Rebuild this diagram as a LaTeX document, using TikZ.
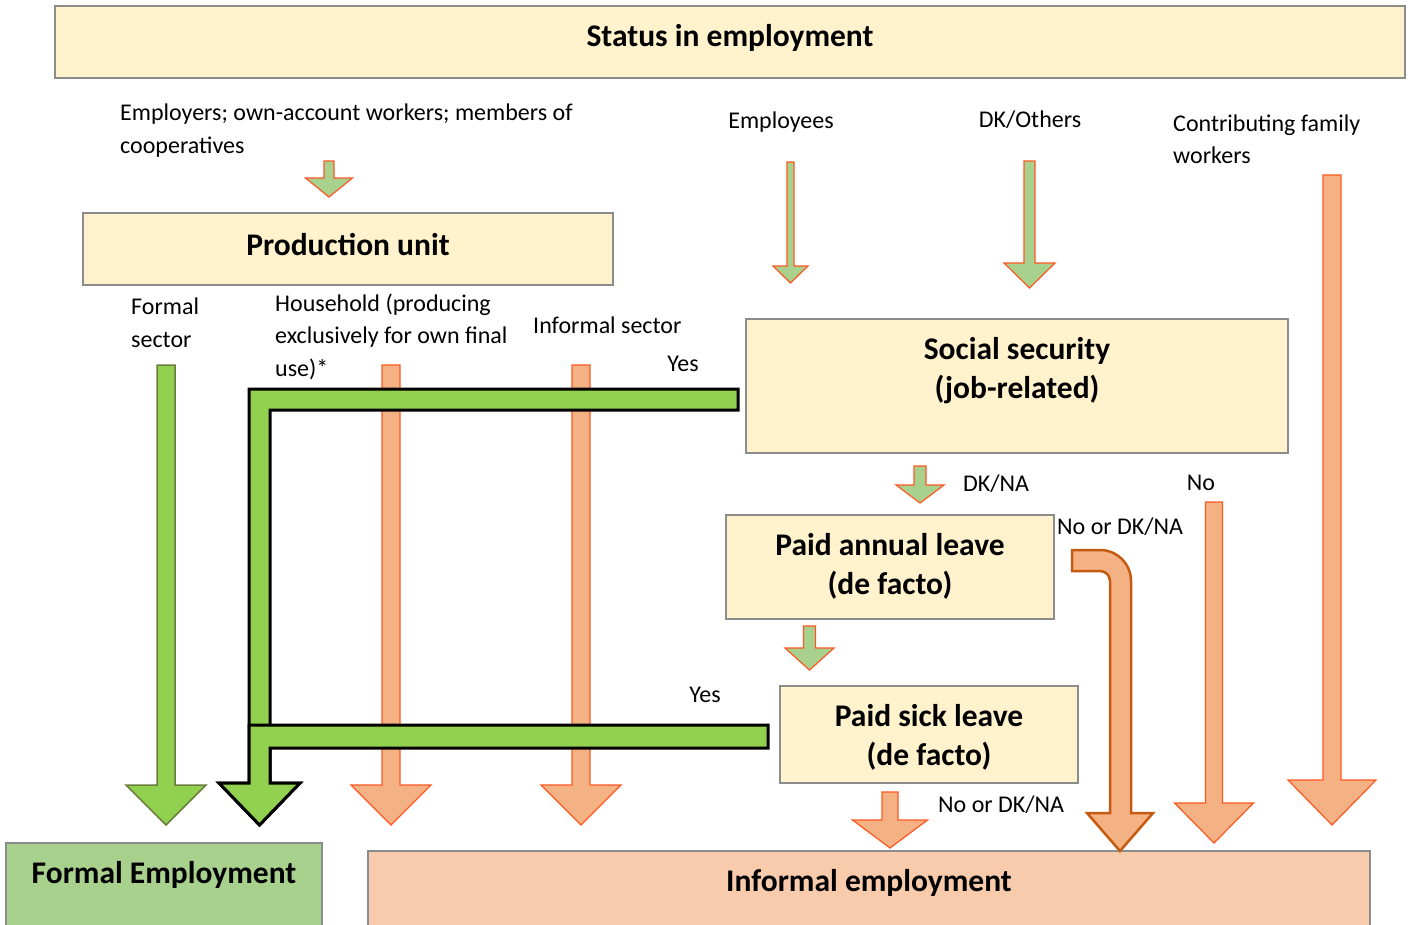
\documentclass[tikz,border=0pt]{standalone}
\usepackage{fontspec}
\setmainfont{Carlito}
\usepackage{tikz}

\definecolor{cream}{HTML}{FFF2CC}
\definecolor{boxgray}{HTML}{8C8C8C}
\definecolor{lightgreen}{HTML}{A9D18E}
\definecolor{brightgreen}{HTML}{92D050}
\definecolor{peach}{HTML}{F4B183}
\definecolor{lightpeach}{HTML}{F8CBAD}
\definecolor{redline}{HTML}{FF5722}
\definecolor{oliveline}{HTML}{6B7D3C}
\definecolor{brownline}{HTML}{C55A11}

\tikzset{
  box/.style={draw=boxgray, line width=2.5pt, fill=cream, inner sep=0pt},
  lbl/.style={font=\fontsize{24}{32.5}\selectfont, align=left, inner sep=0pt, yshift=-1.5pt},
  head/.style={font=\fontsize{31.5}{39}\selectfont\bfseries, align=center, inner sep=0pt, yshift=-2pt},
  greenarrow/.style={fill=lightgreen, draw=redline, line width=1.2pt},
  orangearrow/.style={fill=peach, draw=redline, line width=1.2pt},
  formalarrow/.style={fill=brightgreen, draw=oliveline, line width=1.5pt},
  yesarrow/.style={fill=brightgreen, draw=black, line width=3pt, line join=miter},
  noarrow/.style={fill=peach, draw=brownline, line width=2.5pt},
}

% block arrow pointing down : style, x, top, tip, half shaft, half head, head length
\newcommand{\blockdown}[7]{%
  \draw[#1] (#2-#5,#3) -- (#2+#5,#3) -- (#2+#5,#4-#7) -- (#2+#6,#4-#7)
    -- (#2,#4) -- (#2-#6,#4-#7) -- (#2-#5,#4-#7) -- cycle;}

\begin{document}
\begin{tikzpicture}[x=1pt, y=-1pt]

	\useasboundingbox (0,0) rectangle (1410,924);

	% Boites
	\node[box, minimum width=1350, minimum height=72] (status) at (730,42) {};
	\node[box, minimum width=530, minimum height=72] (unit) at (348,249) {};
	\node[box, minimum width=542, minimum height=134] (social) at (1017,386) {};
	\node[box, minimum width=328, minimum height=104] (annual) at (890,567) {};
	\node[box, minimum width=298, minimum height=97] (sick) at (929,734.5) {};
	\node[box, fill=lightgreen, minimum width=316, minimum height=97] (formal) at (164,891.5) {};
	\node[box, fill=lightpeach, minimum width=1002, minimum height=89] (informal) at (869,895.5) {};

	\node[head] (status-t) at (730,36) {Status in employment};
	\node[head] (unit-t) at (348,243) {Production unit};
	\node[head] (social-t) at (1017,368.5) {Social security\\(job-related)};
	\node[head] (annual-t) at (890,564.5) {Paid annual leave\\(de facto)};
	\node[head] (sick-t) at (929,735.5) {Paid sick leave\\(de facto)};
	\node[head] (formal-t) at (164,873) {Formal Employment};
	\node[head] (informal-t) at (869,881) {Informal employment};

	% Etiquettes
	\node[lbl, anchor=west] (employers) at (120,129) {Employers; own-account workers; members of\\cooperatives};
	\node[lbl] (employees) at (781,121) {Employees};
	\node[lbl] (dkothers) at (1030,118) {DK/Others};
	\node[lbl, anchor=west] (family) at (1173,138) {Contributing family\\workers};
	\node[lbl, anchor=west] (fsector) at (131,321) {Formal\\sector};
	\node[lbl, anchor=west] (household) at (275,335) {Household (producing\\exclusively for own final\\use)*};
	\node[lbl, anchor=west] (isector) at (533,324) {Informal sector};
	\node[lbl] (yes1) at (683,362) {Yes};
	\node[lbl, anchor=west] (dkna) at (963,482) {DK/NA};
	\node[lbl] (no) at (1201,481) {No};
	\node[lbl, anchor=west] (nodk1) at (1057,525) {No or DK/NA};
	\node[lbl] (yes2) at (705,693) {Yes};
	\node[lbl, anchor=west] (nodk2) at (938,803) {No or DK/NA};

	% Fleches du haut
	\blockdown{greenarrow}{329}{161}{197}{5}{23.5}{19}
	\blockdown{greenarrow}{790.5}{162}{283}{3.5}{17.5}{17}
	\blockdown{greenarrow}{1029.5}{161}{288}{5.5}{25.5}{25}
	\blockdown{orangearrow}{1332}{175}{825}{9}{44}{45}

	% Fleches des secteurs
	\def\sw{9}
	\def\hw{40}
	\def\hh{40}
	\blockdown{formalarrow}{166}{365}{825}{\sw}{\hw}{\hh}
	\blockdown{orangearrow}{391}{365}{825}{\sw}{\hw}{\hh}
	\blockdown{orangearrow}{581}{365}{825}{\sw}{\hw}{\hh}

	% Fleches de la securite sociale et des conges
	\blockdown{greenarrow}{920}{466}{503}{6}{24}{18}
	\blockdown{orangearrow}{1214}{502}{843}{8.5}{39.5}{40}
	\blockdown{greenarrow}{809.5}{626}{670}{6}{24.5}{22}
	\blockdown{orangearrow}{890}{792}{848}{8}{37.5}{28}

	% Yes : vers l'emploi formel
	\draw[yesarrow] (738,389) -- (249,389) -- (249,783) -- (219,783) -- (259.5,825)
		-- (300,783) -- (270,783) -- (270,410) -- (738,410) -- cycle;
	\draw[yesarrow] (768,725) -- (249,725) -- (249,783) -- (219,783) -- (259.5,825)
		-- (300,783) -- (270,783) -- (270,748) -- (768,748) -- cycle;

	% No or DK/NA : vers l'emploi informel
	\draw[noarrow] (1072,550) -- (1100,550) arc[start angle=-90, end angle=0, radius=31]
		-- (1131,813) -- (1153,813) -- (1120,851) -- (1087,813) -- (1110,813)
		-- (1110,581) arc[start angle=0, end angle=-90, radius=10] -- (1072,571) -- cycle;

\end{tikzpicture}
\end{document}
